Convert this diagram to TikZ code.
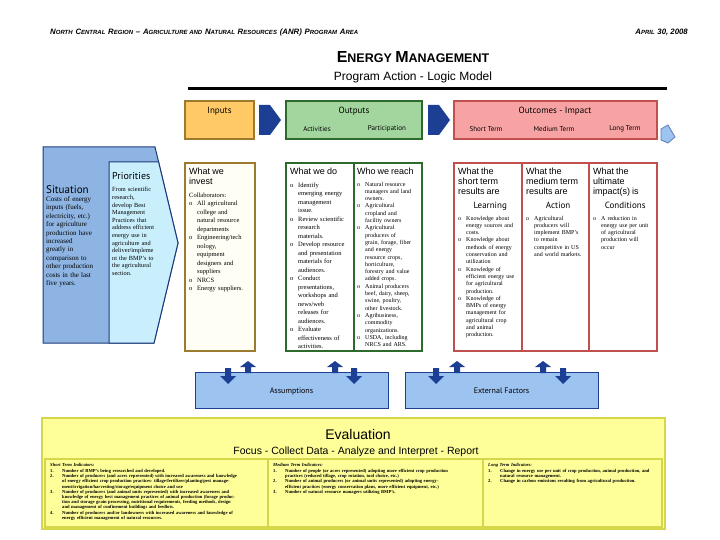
\documentclass[tikz,border=0pt]{standalone}
\usepackage{fontspec}
\setmainfont{Liberation Serif}
\newfontfamily\hsans{Liberation Sans}
\newfontfamily\gsans{PT Sans}
\usetikzlibrary{positioning}

\definecolor{inputfill}{HTML}{FFC966}
\definecolor{inputline}{HTML}{9C7A2E}
\definecolor{outfill}{HTML}{A3D69E}
\definecolor{outgreen}{HTML}{2C6B2C}
\definecolor{impfill}{HTML}{F7A3A3}
\definecolor{impline}{HTML}{C0504D}
\definecolor{navy}{HTML}{1C3F94}
\definecolor{sitfill}{HTML}{8DB4E2}
\definecolor{sitline}{HTML}{1F3A7A}
\definecolor{prifill}{HTML}{C9EFFC}
\definecolor{assfill}{HTML}{9DC3F0}
\definecolor{evalfill}{HTML}{FFFF99}
\definecolor{evalline}{HTML}{D6D64A}
\definecolor{cream}{HTML}{FFFEF5}

\newcommand\bul[1]{\par\hangindent=8pt\hangafter=1\noindent\makebox[8pt][l]{o}#1}
\newcommand\numitem[2]{\par\hangindent=12pt\hangafter=1\noindent\makebox[12pt][l]{#1}#2}
\newcommand\capsw[2]{{\fontsize{7.8}{8}\selectfont #1}{\fontsize{6}{7}\selectfont #2}}
\newcommand\colhead[1]{{\hsans\fontsize{9}{10}\selectfont #1\par}\vspace{4pt}}
\newcommand\midhead[1]{{\centering\gsans\fontsize{9}{10}\selectfont #1\par}\vspace{4pt}}

\begin{document}
\begin{tikzpicture}[x=1pt,y=-1pt,
    every node/.style={inner sep=0pt},
    boxlabel/.style={font=\gsans\fontsize{9}{10}\selectfont},
    sublabel/.style={font=\gsans\fontsize{7}{8}\selectfont},
    coltext/.style={anchor=north west, align=left, font=\rmfamily\fontsize{6.5}{8.5}\selectfont},
    smalltext/.style={anchor=north west, align=left, font=\rmfamily\fontsize{6}{7.3}\selectfont},
    evaltext/.style={anchor=north west, align=left, font=\rmfamily\bfseries\fontsize{4.6}{5.2}\selectfont},
    colbox/.style={line width=1.5pt}]
    \useasboundingbox (0,0) rectangle (720,540);
    \fill[white] (0,0) rectangle (720,540);
    % Header
    \node[anchor=west, font=\hsans\bfseries\itshape] (region) at (50,32)
        {\capsw{N}{ORTH} \capsw{C}{ENTRAL} \capsw{R}{EGION} \capsw{–}{} \capsw{A}{GRICULTURE AND} \capsw{N}{ATURAL} \capsw{R}{ESOURCES} \capsw{(ANR)}{} \capsw{P}{ROGRAM} \capsw{A}{REA}};
    \node[anchor=east, font=\hsans\bfseries\itshape] (date) at (688,32) {\capsw{A}{PRIL} \capsw{30, 2008}{}};
    \node[font=\hsans\bfseries] (title) at (413,57)
        {{\fontsize{16}{18}\selectfont E}{\fontsize{12.5}{14}\selectfont NERGY }{\fontsize{16}{18}\selectfont M}{\fontsize{12.5}{14}\selectfont ANAGEMENT}};
    \node[font=\hsans\fontsize{12}{14}\selectfont] (subtitle) at (413,77) {Program Action - Logic Model};
    \draw[line width=3pt] (188,89) -- (667,89);
    % Top row
    \filldraw[fill=inputfill, draw=inputline, line width=1.2pt] (185,101) rectangle (254,139);
    \node[boxlabel] (inputs) at (219.5,111) {Inputs};
    \fill[navy] (259,105) -- (270,105) -- (281,120) -- (270,135) -- (259,135) -- cycle;
    \filldraw[fill=outfill, draw=outgreen, line width=1.2pt] (286,101) rectangle (422,139);
    \node[boxlabel] (outputs) at (354,111) {Outputs};
    \node[sublabel] (activities) at (317,129) {Activities};
    \node[sublabel] (participation) at (387,129) {Participation};
    \fill[navy] (428,105) -- (439,105) -- (450,120) -- (439,135) -- (428,135) -- cycle;
    \filldraw[fill=impfill, draw=impline, line width=1.2pt] (454,101) rectangle (657,139);
    \node[boxlabel] (outcomes) at (555,111) {Outcomes - Impact};
    \node[sublabel] (shortterm) at (486,129) {Short Term};
    \node[sublabel] (mediumterm) at (554,129) {Medium Term};
    \node[sublabel] (longterm) at (625,129) {Long Term};
    \filldraw[fill=assfill, draw=navy!70, line width=0.8pt] (661,129) -- (668,125) -- (675,137) -- (668,143) -- (661,140) -- cycle;
    % Situation and priorities
    \filldraw[fill=sitfill, draw=sitline, line width=1pt] (43,147) -- (155,147) -- (178,243) -- (154,343) -- (43,343) -- cycle;
    \filldraw[fill=prifill, draw=sitline, line width=1pt] (109,343) -- (109,162) -- (158.6,162) -- (178,243) -- (154,343) -- cycle;
    \node[coltext, text width=63pt, font=\rmfamily\fontsize{7}{8.4}\selectfont] (situation) at (46,185)
        {{\gsans\fontsize{11}{12}\selectfont Situation\par}
        Costs of energy\newline inputs (fuels,\newline electricity, etc.)\newline for agriculture\newline production have\newline increased\newline greatly in\newline comparison to\newline other production\newline costs in the last\newline five years.\par};
    \node[smalltext, text width=60pt, font=\rmfamily\fontsize{6.3}{7.6}\selectfont] (priorities) at (112,172)
        {{\gsans\fontsize{10}{11}\selectfont Priorities\par}\vspace{5pt}
        From scientific\newline research,\newline develop Best\newline Management\newline Practices that\newline address efficient\newline energy use in\newline agriculture and\newline deliver/impleme\newline nt the BMP's to\newline the agricultural\newline section.\par};
    % Columns
    \filldraw[colbox, fill=cream, draw=inputline] (185,163) rectangle (255,351);
    \draw[colbox, outgreen] (286,163) rectangle (422,351);
    \draw[colbox, outgreen] (354,163) -- (354,351);
    \draw[colbox, impline] (454,163) rectangle (657,351);
    \draw[colbox, impline] (522,163) -- (522,351);
    \draw[colbox, impline] (589,163) -- (589,351);
    \node[coltext, text width=64pt] (invest) at (189,168)
        {\colhead{What we\newline invest}
        Collaborators:
        \bul{All agricultural\newline college and\newline natural resource\newline departments}
        \bul{Engineering/tech\newline nology,\newline equipment\newline designers and\newline suppliers}
        \bul{NRCS}
        \bul{Energy suppliers.}\par};
    \node[coltext, text width=64pt] (whatwedo) at (290,168)
        {\colhead{What we do}
        \bul{Identify\newline emerging energy\newline management\newline issue.}
        \bul{Review scientific\newline research\newline materials.}
        \bul{Develop resource\newline and presentation\newline materials for\newline audiences.}
        \bul{Conduct\newline presentations,\newline workshops and\newline news/web\newline releases for\newline audiences.}
        \bul{Evaluate\newline effectiveness of\newline activities.}\par};
    \node[smalltext, text width=64pt] (whowereach) at (357,168)
        {\colhead{Who we reach}
        \bul{Natural resource\newline managers and land\newline owners.}
        \bul{Agricultural\newline cropland and\newline facility owners}
        \bul{Agricultural\newline producers of\newline grain, forage, fiber\newline and energy\newline resource crops,\newline horticulture,\newline forestry and value\newline added crops.}
        \bul{Animal producers\newline beef, dairy, sheep,\newline swine, poultry,\newline other livestock.}
        \bul{Agribusiness,\newline commodity\newline organizations.}
        \bul{USDA, including\newline NRCS and ARS.}\par};
    \node[smalltext, text width=64pt] (learning) at (458,168)
        {\colhead{What the\newline short term\newline results are}
        \midhead{Learning}
        \bul{Knowledge about\newline energy sources and\newline costs.}
        \bul{Knowledge about\newline methods of energy\newline conservation and\newline utilization}
        \bul{Knowledge of\newline efficient energy use\newline for agricultural\newline production.}
        \bul{Knowledge of\newline BMPs of energy\newline management for\newline agricultural crop\newline and animal\newline production.}\par};
    \node[smalltext, text width=64pt] (action) at (526,168)
        {\colhead{What the\newline medium term\newline results are}
        \midhead{Action}
        \bul{Agricultural\newline producers will\newline implement BMP's\newline to remain\newline competitive in US\newline and world markets.}\par};
    \node[smalltext, text width=64pt] (conditions) at (593,168)
        {\colhead{What the\newline ultimate\newline impact(s) is}
        \midhead{Conditions}
        \bul{A reduction in\newline energy use per unit\newline of agricultural\newline production will\newline occur}\par};
    % Assumptions and external factors
    \filldraw[fill=assfill, draw=navy, line width=1pt] (195,372) rectangle (388,408);
    \node[boxlabel, font=\gsans\fontsize{8}{9}\selectfont] (assumptions) at (291.5,391) {Assumptions};
    \filldraw[fill=assfill, draw=navy, line width=1pt] (405,372) rectangle (598,408);
    \node[boxlabel, font=\gsans\fontsize{8}{9}\selectfont] (external) at (501.5,391) {External Factors};
    \foreach \x in {248,335,457,543}{
        \fill[navy] (\x-3,373) -- (\x-3,367) -- (\x-8,367) -- (\x,361) -- (\x+8,367) -- (\x+3,367) -- (\x+3,373) -- cycle;
    }
    \foreach \x in {228,354,436,563}{
        \fill[navy] (\x-3,368) -- (\x-3,376) -- (\x-8,376) -- (\x,384) -- (\x+8,376) -- (\x+3,376) -- (\x+3,368) -- cycle;
    }
    % Evaluation
    \filldraw[fill=evalfill, draw=evalline, line width=1.5pt] (42,418) rectangle (665,529);
    \node[font=\hsans\fontsize{14}{16}\selectfont] (evaluation) at (358,434) {Evaluation};
    \node[font=\hsans\fontsize{10.5}{12}\selectfont] (focus) at (356,452) {Focus - Collect Data - Analyze and Interpret - Report};
    \draw[evalline, line width=1.2pt] (45,459) rectangle (662,527);
    \draw[evalline, line width=1.2pt] (268,459) -- (268,527);
    \draw[evalline, line width=1.2pt] (483,459) -- (483,527);
    \node[evaltext, text width=188pt] (shortind) at (50,463)
        {\textit{Short Term Indicators:}\par\vspace{1pt}
        \numitem{1.}{Number of BMP's being researched and developed.}
        \numitem{2.}{Number of producers (and acres represented) with increased awareness and knowledge of energy efficient crop production practices- tillage/fertilizer/planting/pest management/irrigation/harvesting/storage/equipment choice and use}
        \numitem{3.}{Number of producers (and animal units represented) with increased awareness and knowledge of energy best management practices of animal production (forage production and storage grain processing, nutritional requirements, feeding methods, design and management of confinement buildings and feedlots.}
        \numitem{4.}{Number of producers and/or landowners with increased awareness and knowledge of energy efficient management of natural resources.}\par};
    \node[evaltext, text width=180pt] (mediumind) at (273,463)
        {\textit{Medium Term Indicators:}\par\vspace{1pt}
        \numitem{1.}{Number of people (or acres represented) adopting more efficient crop production practices (reduced tillage, crop rotation, tool choice, etc.)}
        \numitem{2.}{Number of animal producers (or animal units represented) adopting energy-efficient practices (energy conservation plans, more efficient equipment, etc.)}
        \numitem{3.}{Number of natural resource managers utilizing BMP's.}\par};
    \node[evaltext, text width=170pt] (longind) at (488,463)
        {\textit{Long Term Indicators:}\par\vspace{1pt}
        \numitem{1.}{Change in energy use per unit of crop production, animal production, and natural resource management.}
        \numitem{2.}{Change in carbon emissions resulting from agricultural production.}\par};
\end{tikzpicture}
\end{document}
